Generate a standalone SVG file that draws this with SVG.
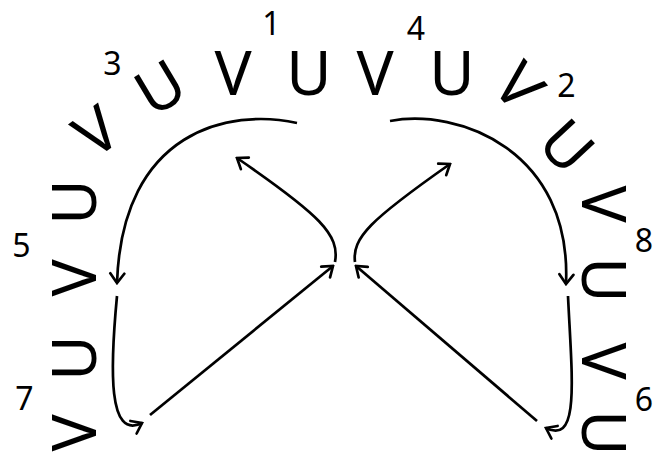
<svg xmlns="http://www.w3.org/2000/svg" width="670" height="456" viewBox="0 0 670 456">
<style>
.L{font-family:"Noto Sans","Open Sans","DejaVu Sans",sans-serif;font-size:62px;fill:#000;text-anchor:middle}
.N{font-family:"Noto Sans","Open Sans","DejaVu Sans",sans-serif;font-size:32px;fill:#000;text-anchor:middle}
.c{fill:none;stroke:#000;stroke-width:2.7;marker-end:url(#ah)}
</style>
<defs>
<marker id="ah" viewBox="-12 -9 14 18" refX="0" refY="0" markerWidth="14" markerHeight="18" markerUnits="userSpaceOnUse" orient="auto">
<path d="M-9.5,-7 L0,0 L-9.5,7" fill="none" stroke="#000" stroke-width="2.7" stroke-linecap="round"/>
</marker>
</defs>
<rect width="670" height="456" fill="#fff"/>
<g id="letters">
<g id="n-l1"><text class="L" transform="translate(73.5,433) rotate(-90)" y="22">V</text></g>
<g id="n-l2"><text class="L" transform="translate(73.5,358) rotate(-90)" y="22">U</text></g>
<g id="n-l3"><text class="L" transform="translate(73.5,278) rotate(-90)" y="22">V</text></g>
<g id="n-l4"><text class="L" transform="translate(73.5,202) rotate(-90)" y="22">U</text></g>
<g id="n-l5"><text class="L" transform="translate(96,131.5) rotate(-36)" y="22">V</text></g>
<g id="n-l6"><text class="L" transform="translate(160,87.5) rotate(-31)" y="22">U</text></g>
<g id="n-t1"><text class="L" transform="translate(233,72.5)" y="22">V</text></g>
<g id="n-t2"><text class="L" transform="translate(309,72.5)" y="22">U</text></g>
<g id="n-t3"><text class="L" transform="translate(375,72.5)" y="22">V</text></g>
<g id="n-t4"><text class="L" transform="translate(452,72.5)" y="22">U</text></g>
<g id="n-r1"><text class="L" transform="translate(519,86) rotate(49)" y="22">V</text></g>
<g id="n-r2"><text class="L" transform="translate(567,146) rotate(47)" y="22">U</text></g>
<g id="n-r3"><text class="L" transform="translate(604,204) rotate(90)" y="22">V</text></g>
<g id="n-r4"><text class="L" transform="translate(604,280) rotate(90)" y="22">U</text></g>
<g id="n-r5"><text class="L" transform="translate(604,361) rotate(90)" y="22">V</text></g>
<g id="n-r6"><text class="L" transform="translate(604,433) rotate(90)" y="22">U</text></g>
</g>
<g id="labels">
<text class="N" x="271.5" y="35">1</text>
<text class="N" x="566.5" y="97">2</text>
<text class="N" x="112.5" y="75">3</text>
<text class="N" x="416" y="40">4</text>
<text class="N" x="21.5" y="257">5</text>
<text class="N" x="644" y="411">6</text>
<text class="N" x="24.5" y="410">7</text>
<text class="N" x="644" y="252">8</text>
</g>
<g id="connectors">
<path class="c" d="M297,123 C230,108 122,130 117,283"/>
<path class="c" d="M117,296 C110,370 108,440 142,423"/>
<path class="c" d="M150,415 L333,266"/>
<path class="c" d="M335,262 C340,235 320,215 237,158"/>
<path class="c" d="M390,121 C458,108 572,150 566,284"/>
<path class="c" d="M568,296 C572,380 580,445 546,428"/>
<path class="c" d="M537,421 L356,266"/>
<path class="c" d="M355,262 C352,238 370,220 450,164"/>
</g>
</svg>
